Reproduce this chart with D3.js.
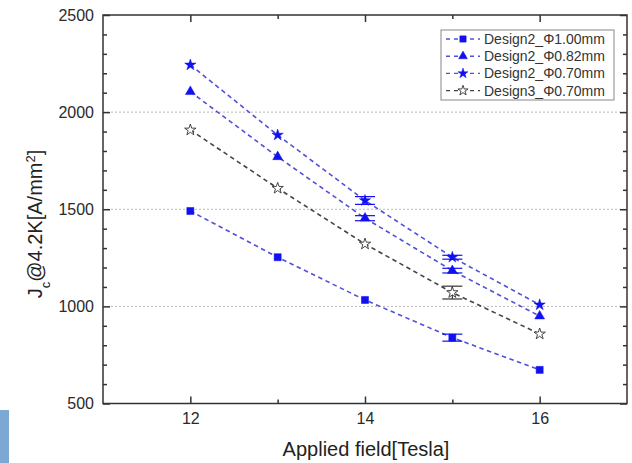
<!DOCTYPE html>
<html>
<head>
    <title>Jc vs applied field</title>
    <script src='https://d3js.org/d3.v7.min.js'></script>
    <style>
        html, body {margin: 0; padding: 0; background: white;}
        svg text {font-family: 'Liberation Sans', Arial, sans-serif; fill: #222;}
    </style>
</head>
<body>
<div id="vis"></div>
<script>

// values
var fields = [12, 13, 14, 15, 16];
var seriesNames = ["Design2_\u03A61.00mm", "Design2_\u03A60.82mm", "Design2_\u03A60.70mm", "Design3_\u03A60.70mm"];
var jc_d2_100 = [1491, 1253, 1033, 839, 673];
var jc_d2_082 = [2105, 1770, 1454, 1184, 950];
var jc_d2_070 = [2243, 1882, 1545, 1253, 1008];
var jc_d3_070 = [1908, 1608, 1321, 1071, 858];
// error bar half widths (null = no bar drawn)
var err_d2_100 = [null, null, null, 18, null];
var err_d2_082 = [null, null, 13, 12, null];
var err_d2_070 = [null, null, 20, 10, null];
var err_d3_070 = [null, null, null, 33, null];
var yTicks = [500, 1000, 1500, 2000, 2500];
var xTicks = [12, 14, 16];

var width = 632, height = 463;
var margin = {top: 15, bottom: 60, left: 103, right: 5};

var svg = d3.select('#vis').append('svg')
    .attr('width', width)
    .attr('height', height);

// little blue strip at the bottom left of the original image
svg.append('rect').attr('x', 0).attr('y', 410).attr('width', 9).attr('height', 53).attr('fill', '#7ca8d3');

var x_scale = d3.scaleLinear().domain([11, 17]).range([margin.left, width - margin.right]);
var y_scale = d3.scaleLinear().domain([500, 2500]).range([height - margin.bottom + 0.5, margin.top]);

// grid
svg.append('g').selectAll('line').data([1000, 1500, 2000]).enter().append('line')
    .attr('x1', x_scale(11)).attr('x2', x_scale(17))
    .attr('y1', d => y_scale(d)).attr('y2', d => y_scale(d))
    .attr('stroke', '#b8b8b8').attr('stroke-width', 1).attr('stroke-dasharray', '2,2');

var minorY = d3.range(600, 2500, 100).filter(d => d % 500 != 0);

function tickAxis(axis, pos, transform, size, values, labels) {
    var g = svg.append('g').attr('transform', transform)
        .call(axis(pos).tickValues(values).tickSizeInner(-size).tickSizeOuter(0).tickPadding(labels ? 9 : 0)
            .tickFormat(labels ? d3.format('d') : ''));
    g.select('.domain').remove();
    g.selectAll('line').attr('stroke', '#333').attr('stroke-width', 1.5);
    g.selectAll('text').style('font-size', '16px').style('fill', '#2a2a2a');
    return g;
}
var yb = y_scale(500), yt = y_scale(2500), xl = x_scale(11), xr = x_scale(17);
tickAxis(d3.axisBottom, x_scale, 'translate(0,' + yb + ')', 7, xTicks, true);
tickAxis(d3.axisBottom, x_scale, 'translate(0,' + yb + ')', 4, [13, 15], false);
tickAxis(d3.axisTop, x_scale, 'translate(0,' + yt + ')', 7, xTicks, false);
tickAxis(d3.axisTop, x_scale, 'translate(0,' + yt + ')', 4, [13, 15], false);
tickAxis(d3.axisLeft, y_scale, 'translate(' + xl + ',0)', 7, yTicks, true);
tickAxis(d3.axisLeft, y_scale, 'translate(' + xl + ',0)', 4, minorY, false);
tickAxis(d3.axisRight, y_scale, 'translate(' + xr + ',0)', 7, yTicks, false);
tickAxis(d3.axisRight, y_scale, 'translate(' + xr + ',0)', 4, minorY, false);

svg.append('rect').attr('x', xl).attr('y', yt).attr('width', xr - xl).attr('height', yb - yt)
    .attr('fill', 'none').attr('stroke', '#333').attr('stroke-width', 1.5);

// series
var series = [
    {name: seriesNames[0], values: jc_d2_100, err: err_d2_100, sym: d3.symbolSquare, size: 50, line: '#5050d8', mark: '#1010f0', fill: true},
    {name: seriesNames[1], values: jc_d2_082, err: err_d2_082, sym: d3.symbolTriangle, size: 42, line: '#5050d8', mark: '#1010f0', fill: true},
    {name: seriesNames[2], values: jc_d2_070, err: err_d2_070, sym: d3.symbolStar, size: 40, line: '#5050d8', mark: '#1010f0', fill: true},
    {name: seriesNames[3], values: jc_d3_070, err: err_d3_070, sym: d3.symbolStar, size: 40, line: '#444', mark: '#333', fill: false}
];

var line = d3.line().x((d, i) => x_scale(fields[i])).y(d => y_scale(d));

series.forEach(function(s) {
    var g = svg.append('g');
    g.append('path').attr('d', line(s.values))
        .attr('fill', 'none').attr('stroke', s.line).attr('stroke-width', 1.6).attr('stroke-dasharray', '4.5,3.5');
    fields.forEach(function(f, i) {
        if (s.err[i] == null) return;
        var cx = x_scale(f), y1 = y_scale(s.values[i] - s.err[i]), y2 = y_scale(s.values[i] + s.err[i]);
        g.append('line').attr('x1', cx).attr('x2', cx).attr('y1', y1).attr('y2', y2).attr('stroke', s.mark).attr('stroke-width', 1.2);
        [y1, y2].forEach(function(yy) {
            g.append('line').attr('x1', cx - 10).attr('x2', cx + 10).attr('y1', yy).attr('y2', yy)
                .attr('stroke', s.mark).attr('stroke-width', 1.2);
        });
    });
    g.selectAll('path.pt').data(s.values).enter().append('path').attr('class', 'pt')
        .attr('d', d3.symbol().type(s.sym).size(s.size))
        .attr('transform', (d, i) => 'translate(' + x_scale(fields[i]) + ',' + y_scale(d) + ')')
        .attr('fill', s.fill ? s.mark : 'white')
        .attr('stroke', s.mark).attr('stroke-width', s.fill ? 0.5 : 0.9);
});

// legend
var leg = svg.append('g');
leg.append('rect').attr('x', 441).attr('y', 30).attr('width', 173).attr('height', 70)
    .attr('fill', 'white').attr('stroke', '#888').attr('stroke-width', 1);
series.forEach(function(s, i) {
    var yy = 39 + i * 17.2;
    leg.append('line').attr('x1', 446).attr('x2', 480).attr('y1', yy).attr('y2', yy)
        .attr('stroke', s.line).attr('stroke-width', 1.4).attr('stroke-dasharray', '4,4');
    leg.append('path').attr('d', d3.symbol().type(s.sym).size(s.size * 0.8))
        .attr('transform', 'translate(463,' + yy + ')')
        .attr('fill', s.fill ? s.mark : 'white').attr('stroke', s.mark).attr('stroke-width', s.fill ? 0.5 : 0.9);
    leg.append('text').attr('x', 484).attr('y', yy).attr('dy', '0.36em')
        .style('font-size', '14px').style('fill', '#333').text(s.name);
});

// axis titles
svg.append('text').attr('x', 366).attr('y', 456).attr('text-anchor', 'middle')
    .style('font-size', '20px').text('Applied field[Tesla]');

var ylab = svg.append('text').attr('transform', 'translate(42,224) rotate(-90)')
    .attr('text-anchor', 'middle').style('font-size', '20px');
ylab.append('tspan').text('J');
ylab.append('tspan').attr('baseline-shift', 'sub').style('font-size', '13px').text('c');
ylab.append('tspan').text('@4.2K[A/mm');
ylab.append('tspan').attr('baseline-shift', 'super').style('font-size', '13px').text('2');
ylab.append('tspan').text(']');

</script>
</body>
</html>
